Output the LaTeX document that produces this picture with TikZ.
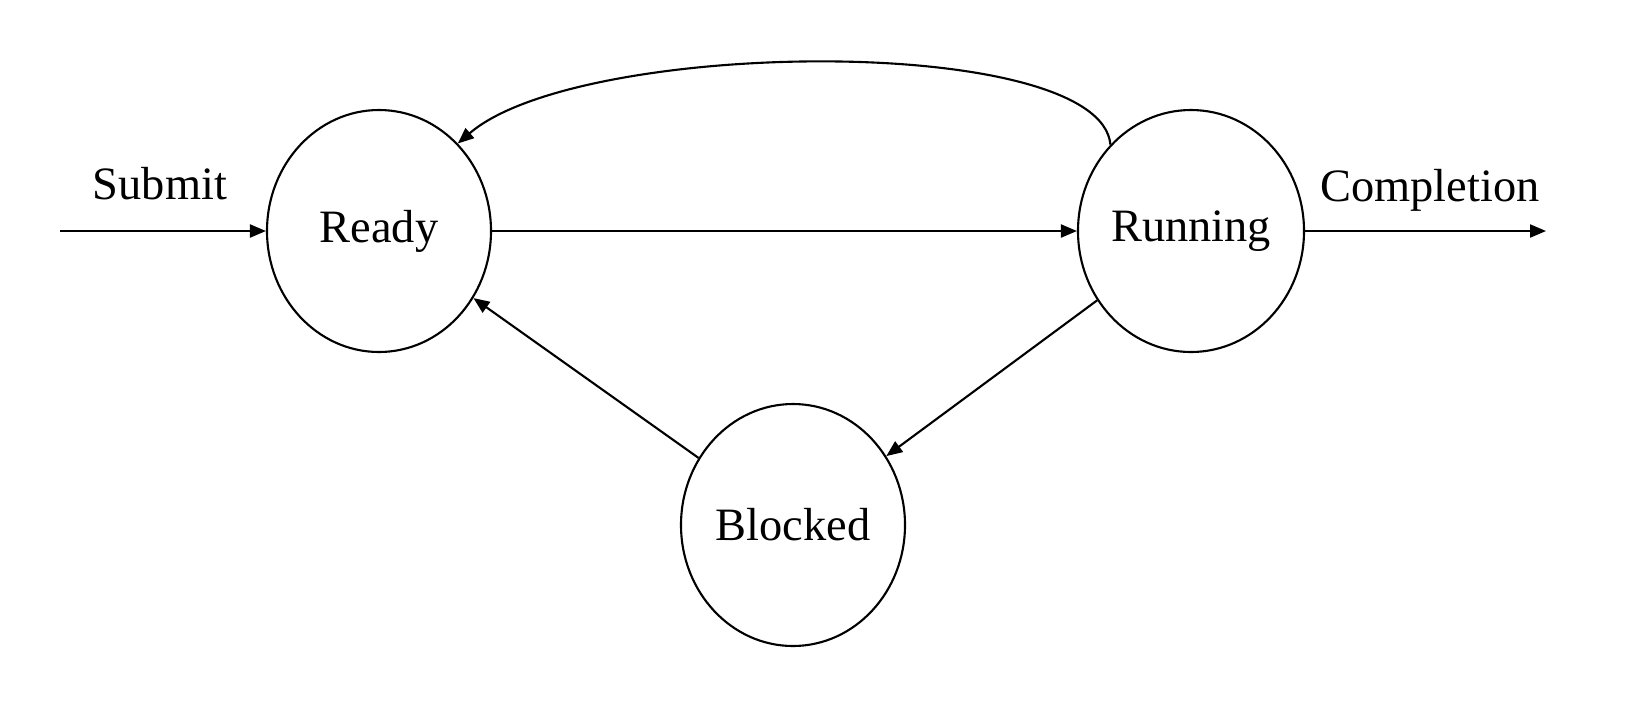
\documentclass[tikz,border=0pt]{standalone}
\usepackage{fontspec}
\setmainfont{Liberation Serif}
\usetikzlibrary{shapes,shapes.geometric,calc,positioning,arrows.meta}

\begin{document}
\begin{tikzpicture}
	[->,>={Triangle[length=1.6mm,width=1.3mm]},line width=0.6pt,
	every node/.style={shape=ellipse,minimum width=2.24cm,minimum height=2.42cm,inner sep=0pt,draw,line width=0.6pt,font=\fontsize{13.2}{16}\selectfont}]
	\useasboundingbox (0,0) rectangle (16.4,-7.24);
	\node (ready) at (3.79,-2.31) {Ready};
	\node (running) at (11.91,-2.31) {Running};
	\node (blocked) at (7.93,-5.25) {Blocked};

	\coordinate (in) at (0.60,-2.31);
	\coordinate (out) at (15.46,-2.31);
	\node[draw=none,minimum size=0pt] (submit) at (1.60,-1.84) {Submit};
	\node[draw=none,minimum size=0pt] (completion) at (14.30,-1.90) {Completion};

	\path
	\foreach \startNode/\endNode in {in/ready,ready/running,running/blocked,blocked/ready,running/out}
	{
		(\startNode) edge (\endNode)
	};
	\draw (running.133) .. controls (11.00,-0.33) and (5.80,-0.38) .. (ready.48);
\end{tikzpicture}
\end{document}
